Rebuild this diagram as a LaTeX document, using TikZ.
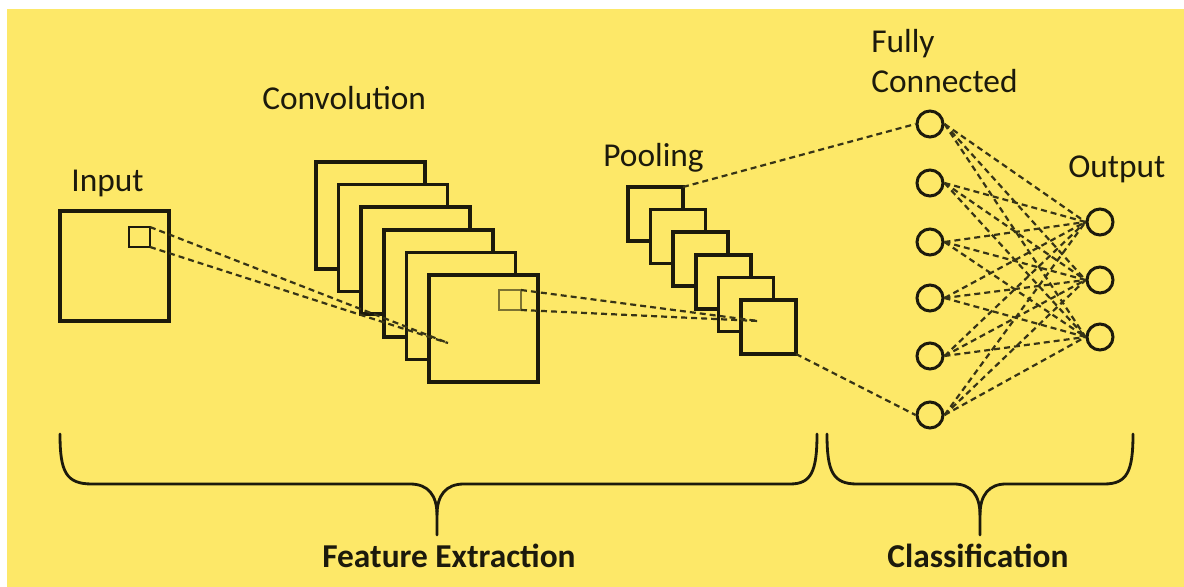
\documentclass[tikz,border=0pt]{standalone}
\usepackage{fontspec}
\setmainfont{Carlito}
\definecolor{bgyellow}{RGB}{253,232,104}
\definecolor{ink}{RGB}{28,26,12}
\definecolor{dashink}{RGB}{55,52,22}
\definecolor{patch}{RGB}{125,115,50}
\begin{document}
\begin{tikzpicture}[x=0.02cm, y=-0.02cm,
  fmap/.style={draw=ink, line width=2pt, fill=bgyellow, inner sep=0pt, outer sep=0pt},
  window/.style={draw=ink, line width=1.2pt, inner sep=0pt, outer sep=0pt},
  neuron/.style={circle, draw=ink, line width=1.7pt, fill=bgyellow, inner sep=0pt, minimum size=0.52cm},
  link/.style={draw=dashink, line width=1.25pt, dash pattern=on 3.4pt off 2.3pt},
  brace/.style={draw=ink, line width=1.6pt, line cap=round},
  lbl/.style={anchor=base west, inner sep=0pt, text=ink, font=\fontsize{19}{22}\selectfont},
  blbl/.style={anchor=base, inner sep=0pt, text=ink, font=\fontsize{19}{22}\selectfont\bfseries}]

% canvas
\useasboundingbox (0,0) rectangle (1184,587);
\fill[white] (0,0) rectangle (1184,587);
\fill[bgyellow] (7,9) rectangle (1184,587);

% input image and its receptive window
\node[fmap, minimum width=2.18cm, minimum height=2.2cm] (input) at (114.5,266) {};
\node[window, minimum width=0.42cm, minimum height=0.4cm] (insq) at (139.5,237) {};

% stack of convolution feature maps
\foreach \i in {0,...,5}
  \node[fmap, minimum width=2.18cm, minimum height=2.14cm] (c\i) at ({370.5+22.6*\i},{215.5+22.6*\i}) {};
\node[window, draw=patch, line width=1pt, minimum width=0.44cm, minimum height=0.4cm] (csq) at (510,300) {};

% stack of pooled maps
\foreach \i in {0,...,5}
  \node[fmap, minimum width=1.1cm, minimum height=1.08cm] (p\i) at ({655.5+22.6*\i},{214+22.6*\i}) {};

% fully connected layer and outputs
\foreach \y [count=\k] in {124,183,242,298,356,415}
  \node[neuron] (fc\k) at (930,\y) {};
\foreach \y [count=\k] in {222,280,337}
  \node[neuron] (out\k) at (1100,\y) {};

% projection lines
\coordinate (cfocus) at (448,343);
\coordinate (pfocus) at (758,321);
\draw[link] (insq.north east) -- (cfocus);
\draw[link] (insq.south east) -- (cfocus);
\draw[link] (csq.north east) -- (pfocus);
\draw[link] (csq.south east) -- (pfocus);
\draw[link] (p0.north east) -- (fc1.west);
\draw[link] (p5.south east) -- (fc6.west);
\foreach \i in {1,...,6}
  \foreach \j in {1,2,3}
    \draw[link] (fc\i.east) -- (out\j.west);

% braces
\draw[brace] (60,434) .. controls (60,472) and (66,484) .. (92,484) -- (410,484)
  .. controls (428,484) and (437,495) .. (437,515) -- (437,535);
\draw[brace] (437,515) .. controls (437,495) and (446,484) .. (464,484) -- (790,484)
  .. controls (811,484) and (817,472) .. (817,434);
\draw[brace] (827,434) .. controls (827,472) and (833,484) .. (857,484) -- (954,484)
  .. controls (971,484) and (980,495) .. (980,515) -- (980,535);
\draw[brace] (980,515) .. controls (980,495) and (989,484) .. (1006,484) -- (1104,484)
  .. controls (1127,484) and (1133,472) .. (1133,434);

% labels
\node[lbl] (tin) at (71,192) {Input};
\node[lbl] (tconv) at (262,110) {Convolution};
\node[lbl] (tpool) at (603,167) {Pooling};
\node[lbl] (tfully) at (871,53) {Fully};
\node[lbl] (tconn) at (871,93) {Connected};
\node[lbl] (tout) at (1068,178) {Output};
\node[blbl] (tfe) at (449,567) {Feature Extraction};
\node[blbl] (tcl) at (978,567) {Classification};
\end{tikzpicture}
\end{document}
